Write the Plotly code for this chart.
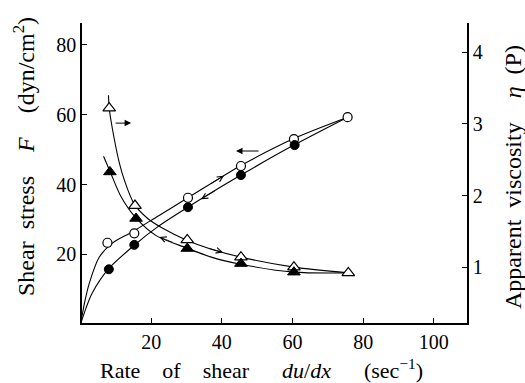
import numpy as np
import plotly.graph_objects as go

# ---- data ----
# measured points: rate of shear (1/s)
x_F_up = [7.6, 15.2, 30.4, 45.4, 60.4, 75.6]
F_up = [23.3, 26.0, 36.2, 45.3, 53.0, 59.3]          # open circles, shear stress (dyn/cm2)
x_F_down = [8.0, 15.2, 30.4, 45.4, 60.6]
F_down = [15.7, 22.7, 33.5, 42.7, 51.3]              # filled circles
x_eta_up = [8.1, 15.4, 30.2, 45.4, 60.4, 75.8]
eta_up = [3.22, 1.86, 1.38, 1.14, 1.00, 0.92]        # open triangles, viscosity (P)
x_eta_down = [8.3, 15.7, 30.2, 45.4, 60.4]
eta_down = [2.33, 1.68, 1.26, 1.05, 0.93]            # filled triangles

# smooth curves
cx_F_up = [0, 1.2, 2.5, 5.3, 9.0, 14.6, 22.0, 30.7, 45.3, 60.4, 75.6]
cy_F_up = [0, 6.5, 11.8, 19.2, 23.2, 26.4, 31.0, 36.4, 45.4, 53.2, 59.3]
cx_F_down = [0, 1.5, 3.3, 7.9, 15.2, 22.0, 29.9, 45.4, 60.4, 75.6]
cy_F_down = [0, 4.5, 8.9, 15.8, 22.6, 28.0, 33.2, 42.7, 51.3, 59.3]
cx_eta_up = [7.9, 8.1, 9.5, 11.0, 12.5, 15.2, 19.0, 23.0, 29.9, 37.0, 45.4, 60.4, 75.8]
cy_eta_up = [3.40, 3.22, 2.80, 2.45, 2.20, 1.88, 1.68, 1.55, 1.38, 1.25, 1.14, 1.00, 0.92]
cx_eta_down = [6.5, 8.4, 11.5, 15.8, 21.4, 29.9, 37.0, 45.4, 60.4, 75.8]
cy_eta_down = [2.55, 2.33, 1.98, 1.68, 1.44, 1.27, 1.14, 1.04, 0.93, 0.92]

x_ticks = [20, 40, 60, 80, 100]
F_ticks = [20, 40, 60, 80]
eta_ticks = [1, 2, 3, 4]

FONT = "Liberation Serif"
fig = go.Figure()

line = dict(color="black", width=1.1)
for cx, cy, ax in [(cx_F_up, cy_F_up, "y"), (cx_F_down, cy_F_down, "y"),
                   (cx_eta_up, cy_eta_up, "y2"), (cx_eta_down, cy_eta_down, "y2")]:
    fig.add_trace(go.Scatter(x=cx, y=cy, mode="lines", line=line,
                             line_shape="spline", line_smoothing=0.8, yaxis=ax, hoverinfo="skip"))

mk_open_c = dict(symbol="circle", size=9, color="white", line=dict(color="black", width=1.2))
mk_fill_c = dict(symbol="circle", size=9, color="black", line=dict(color="black", width=1))
mk_open_t = dict(symbol="triangle-up", size=11, color="white", line=dict(color="black", width=1.2))
mk_fill_t = dict(symbol="triangle-up", size=11, color="black", line=dict(color="black", width=1))

fig.add_trace(go.Scatter(x=x_F_up, y=F_up, mode="markers", marker=mk_open_c))
fig.add_trace(go.Scatter(x=x_F_down, y=F_down, mode="markers", marker=mk_fill_c))
fig.add_trace(go.Scatter(x=x_eta_up, y=eta_up, mode="markers", marker=mk_open_t, yaxis="y2"))
fig.add_trace(go.Scatter(x=x_eta_down, y=eta_down, mode="markers", marker=mk_fill_t, yaxis="y2"))

ann = []
# direction arrows pointing to the relevant axis
ann.append(dict(x=14.3, y=57.6, ax=9.5, ay=57.6, xref="x", yref="y", axref="x", ayref="y",
                showarrow=True, arrowhead=2, arrowsize=1.3, arrowwidth=1, arrowcolor="black", text=""))
ann.append(dict(x=44.0, y=49.6, ax=50.8, ay=49.6, xref="x", yref="y", axref="x", ayref="y",
                showarrow=True, arrowhead=2, arrowsize=1.3, arrowwidth=1, arrowcolor="black", text=""))
# chevrons on curves (tip x, tail x, curve, axis)
for tip, tail, cx, cy, yr in [(40.6, 36.5, cx_F_up, cy_F_up, "y"),
                             (34.1, 38.5, cx_F_down, cy_F_down, "y"),
                             (40.3, 36.0, cx_eta_up, cy_eta_up, "y2"),
                             (22.3, 26.5, cx_eta_down, cy_eta_down, "y2")]:
    ann.append(dict(x=tip, y=float(np.interp(tip, cx, cy)), ax=tail, ay=float(np.interp(tail, cx, cy)),
                    xref="x", yref=yr, axref="x", ayref=yr, showarrow=True, arrowhead=5,
                    arrowsize=1.4, arrowwidth=0.8, arrowcolor="black", text=""))

tfont = dict(family=FONT, size=24, color="black")
ann.append(dict(text="Shear\u2002stress\u2002\u2002<i>F</i>\u2002\u2002(dyn/cm<sup>2</sup>)", textangle=-90,
                xref="paper", yref="paper", x=-58/385, y=(323-157)/300, showarrow=False,
                font=tfont, xanchor="center", yanchor="middle"))
ann.append(dict(text="Apparent\u2002viscosity\u2002\u2002<i>η</i>\u2002(P)", textangle=-90,
                xref="paper", yref="paper", x=(513-82)/385, y=(323-177)/300, showarrow=False,
                font=tfont, xanchor="center", yanchor="middle"))
ann.append(dict(text="Rate\u2003of\u2003shear\u2003\u2002<i>du</i>/<i>dx</i>\u2003\u2002(sec<sup>−1</sup>)",
                xref="paper", yref="paper", x=(261-82)/385, y=-(369-323)/300, showarrow=False,
                font=dict(family=FONT, size=22, color="black"), xanchor="center", yanchor="middle"))

axcommon = dict(showgrid=False, zeroline=False, showline=True, linecolor="black", linewidth=1.5,
                ticks="inside", ticklen=5, tickwidth=1, tickcolor="black",
                tickfont=dict(family=FONT, size=20, color="black"))

fig.update_layout(
    width=525, height=383, margin=dict(l=82, r=58, t=23, b=60),
    paper_bgcolor="white", plot_bgcolor="white", showlegend=False,
    xaxis=dict(range=[0.4, 109.4], tickvals=x_ticks, ticklabelstandoff=0, **axcommon),
    yaxis=dict(range=[0.3, 86.3], tickvals=F_ticks, **axcommon),
    yaxis2=dict(range=[0.22, 4.41], tickvals=eta_ticks, overlaying="y", side="right", **axcommon),
    annotations=ann,
)
fig.write_html("out.html")
